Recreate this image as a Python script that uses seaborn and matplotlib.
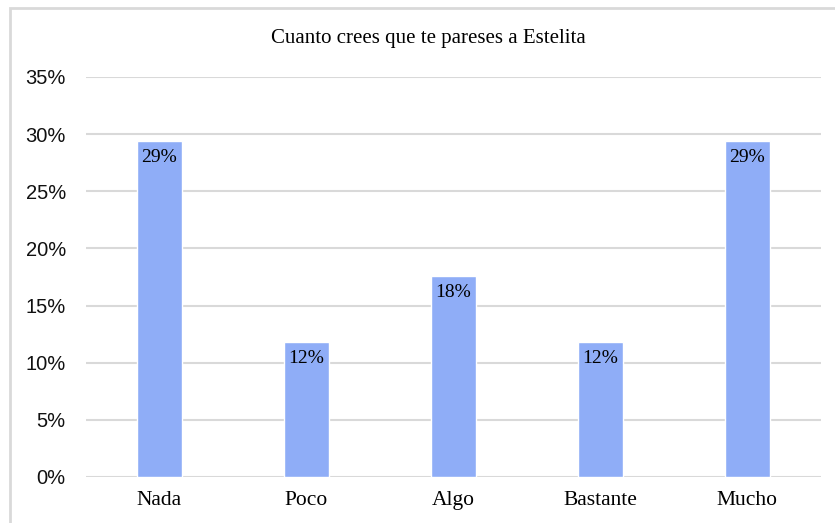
import pandas as pd
import seaborn as sns
from matplotlib import pyplot as plt
from matplotlib.patches import Rectangle
from matplotlib.ticker import PercentFormatter

# Respuestas (proporciones)
categorias = ['Nada', 'Poco', 'Algo', 'Bastante', 'Mucho']
valores = [0.294, 0.118, 0.176, 0.118, 0.294]
etiquetas = ['29%', '12%', '18%', '12%', '29%']

df = pd.DataFrame({'cat': categorias, 'val': valores})

sns.set_style('white')
plt.rcParams['font.family'] = ['Liberation Sans', 'DejaVu Sans']

fig = plt.figure(figsize=(8.35, 5.23), dpi=100)
ax = fig.add_axes([0.103, 0.088, 0.880, 0.765])

sns.barplot(data=df, x='cat', y='val', color='#8fadf7', width=0.31,
            saturation=1, ax=ax, zorder=3)

ax.set_ylim(0, 0.35)
ax.set_yticks([0, 0.05, 0.10, 0.15, 0.20, 0.25, 0.30, 0.35])
ax.yaxis.set_major_formatter(PercentFormatter(1.0, decimals=0))
ax.grid(axis='y', color='#d9d9d9', linewidth=1.5, zorder=0)
for s in ax.spines.values():
    s.set_visible(False)
ax.set_xlabel('')
ax.set_ylabel('')
ax.tick_params(axis='y', labelsize=14.5, length=0, pad=14.5, labelcolor='#111111')
ax.tick_params(axis='x', length=0, pad=10, labelcolor='black')
for t in ax.get_xticklabels():
    t.set_fontfamily('Liberation Serif')
    t.set_fontsize(15.5)

# etiquetas dentro de las barras
for i, (v, e) in enumerate(zip(valores, etiquetas)):
    ax.annotate(e, (i, v), xytext=(0, -6), textcoords='offset points',
                ha='center', va='top', fontsize=14, color='black',
                family='Liberation Serif', zorder=4)

fig.text(0.513, 0.927, 'Cuanto crees que te pareses a Estelita',
         ha='center', va='center', fontsize=15, color='black',
         family='Liberation Serif')

# marco del grafico
fig.patches.append(Rectangle((10 / 835, -0.1), 1.0, 1 - 8 / 523 + 0.1,
                             transform=fig.transFigure, fill=False,
                             edgecolor='#d9d9d9', linewidth=2))

plt.savefig('out.png', dpi=100)
